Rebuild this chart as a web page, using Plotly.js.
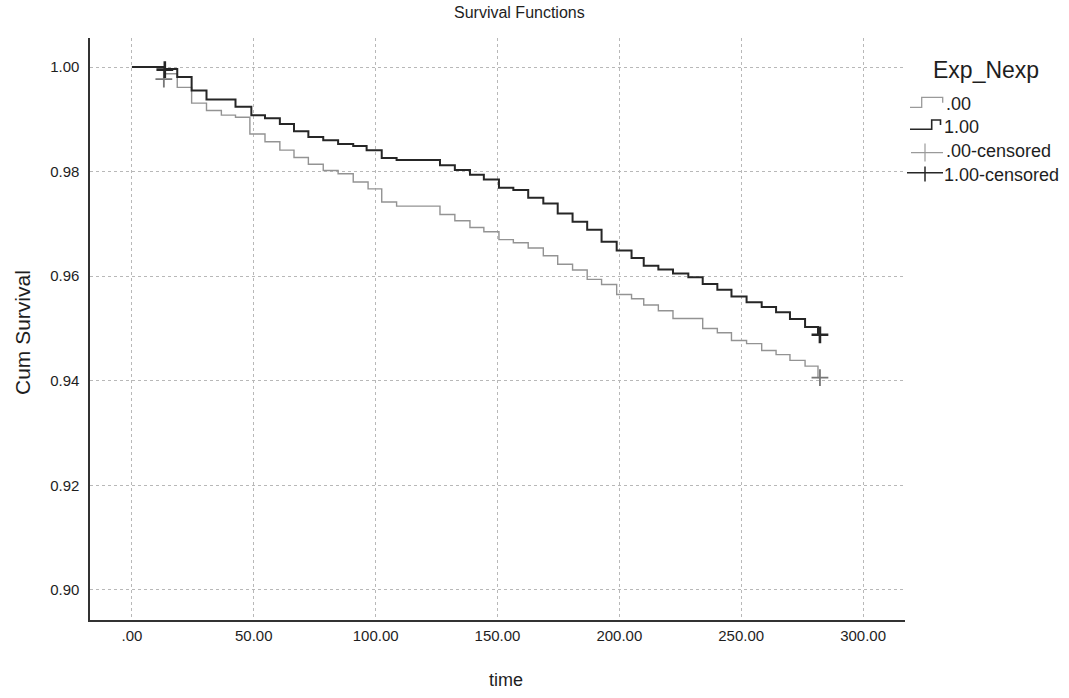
<!DOCTYPE html>
<html><head><meta charset="utf-8">
<script src="https://cdn.plot.ly/plotly-3.0.1.min.js"></script>
<style>html,body{margin:0;padding:0;background:#fff}</style>
</head><body><div id="chart" style="width:1069px;height:698px"></div>
<script>
// ---- data ----
const groupNames = ['.00', '1.00'];
const time0 = [0, 13.5, 18.6, 24.5, 30.6, 36.7, 42.5, 48.4, 54.6, 60.7, 66.5, 72.4, 78.5, 84.6, 90.8, 96.9, 102.5, 108.6, 126.4, 132.5, 138.7, 144.4, 150.6, 156.5, 162.6, 168.8, 174.7, 180.8, 186.8, 192.7, 198.9, 205, 210, 216, 222, 234.2, 240.2, 246, 252.2, 258.4, 264.3, 270, 276.2, 281.5, 282.3];
const surv0 = [1.0, 0.9987, 0.9961, 0.9931, 0.9917, 0.9908, 0.9904, 0.9872, 0.9857, 0.9841, 0.9827, 0.9814, 0.9802, 0.9796, 0.9780, 0.9767, 0.9742, 0.9734, 0.9718, 0.9706, 0.9693, 0.9685, 0.9670, 0.9664, 0.9654, 0.9639, 0.9623, 0.9612, 0.9594, 0.9584, 0.9565, 0.9557, 0.9545, 0.9534, 0.9519, 0.9500, 0.9492, 0.9477, 0.9471, 0.9458, 0.9450, 0.9439, 0.9428, 0.9406, 0.9406];
const time1 = [0, 13.5, 18.6, 24.5, 30.6, 42.5, 49, 54.6, 60.7, 66.5, 72.4, 78.5, 84.6, 90.8, 96.3, 102.5, 108.6, 126.4, 132.5, 138.7, 144.4, 150.6, 156.5, 162.6, 168.8, 174.7, 180.8, 186.8, 192.7, 198.9, 205, 210, 216, 222, 228.3, 234.2, 240.2, 246, 252.2, 258.4, 264.3, 270, 276.2, 281.5, 282.3];
const surv1 = [1.0, 0.9996, 0.9981, 0.9955, 0.9938, 0.9924, 0.9908, 0.9902, 0.9891, 0.9877, 0.9866, 0.9860, 0.9853, 0.9849, 0.9841, 0.9826, 0.9822, 0.9812, 0.9803, 0.9794, 0.9785, 0.9769, 0.9765, 0.9750, 0.9739, 0.9720, 0.9704, 0.9689, 0.9666, 0.9649, 0.9635, 0.9620, 0.9613, 0.9605, 0.9598, 0.9585, 0.9574, 0.9561, 0.9550, 0.9541, 0.9531, 0.9518, 0.9503, 0.9488, 0.9488];
const cens0Time = [13.1, 282.3];
const cens0Surv = [0.9977, 0.9406];
const cens1Time = [13.5, 282.3];
const cens1Surv = [0.9995, 0.9488];
const xTickVals = [0, 50, 100, 150, 200, 250, 300];
const xTickText = ['.00', '50.00', '100.00', '150.00', '200.00', '250.00', '300.00'];
const yTickVals = [0.90, 0.92, 0.94, 0.96, 0.98, 1.00];
const yTickText = ['0.90', '0.92', '0.94', '0.96', '0.98', '1.00'];
const legendTitle = 'Exp_Nexp';
const legendLabels = ['.00', '1.00', '.00-censored', '1.00-censored'];

// ---- styling / layout ----
const FONT = 'Liberation Sans, Arial, sans-serif';
const W = 1069, H = 698;
const M = {l: 90, r: 164, t: 38, b: 78};
const PW = W - M.l - M.r, PH = H - M.t - M.b;
const xp = px => (px - M.l) / PW;
const yp = py => (H - M.b - py) / PH;
const GRAY = '#939393', DARK = '#262626';

const traces = [
  {x: time0, y: surv0, mode: 'lines', line: {shape: 'hv', color: GRAY, width: 1.4}, name: groupNames[0], hoverinfo: 'skip'},
  {x: time1, y: surv1, mode: 'lines', line: {shape: 'hv', color: DARK, width: 2}, name: groupNames[1], hoverinfo: 'skip'},
  {x: cens0Time, y: cens0Surv, mode: 'markers', marker: {symbol: 'cross-thin', size: 12, line: {width: 1.8, color: '#777'}}, name: legendLabels[2]},
  {x: cens1Time, y: cens1Surv, mode: 'markers', marker: {symbol: 'cross-thin', size: 12, line: {width: 2.6, color: DARK}}, name: legendLabels[3]}
];

const shapes = [];
const annotations = [];
function pathPx(pts, color, width) {
  const d = pts.map((p, i) => (i ? 'L' : 'M') + xp(p[0]).toFixed(5) + ',' + yp(p[1]).toFixed(5)).join(' ');
  shapes.push({type: 'path', xref: 'paper', yref: 'paper', path: d, line: {color: color, width: width}});
}
// legend icons
pathPx([[910, 107.3], [921.7, 107.3], [921.7, 97.3], [942.7, 97.3], [942.7, 102.7]], '#9a9a9a', 1.3);
pathPx([[910, 129.3], [931.7, 129.3], [931.7, 120], [940.5, 120], [940.5, 125]], DARK, 1.6);
pathPx([[911, 152.7], [943, 152.7]], '#9a9a9a', 1.2);
pathPx([[925, 143.5], [925, 161.5]], '#9a9a9a', 1.2);
pathPx([[907, 172.7], [943, 172.7]], DARK, 1.5);
pathPx([[925, 166.5], [925, 181.5]], DARK, 1.5);

function textPx(txt, x, y, size, opts) {
  annotations.push(Object.assign({text: txt, xref: 'paper', yref: 'paper', x: xp(x), y: yp(y),
    xanchor: 'left', yanchor: 'middle', showarrow: false, font: {family: FONT, size: size, color: '#1e1e1e'}}, opts || {}));
}
textPx(legendTitle, 931, 70, 23);
textPx(legendLabels[0], 944, 104, 18);
textPx(legendLabels[1], 942, 127.3, 18);
textPx(legendLabels[2], 944, 151, 18);
textPx(legendLabels[3], 942, 175, 18);
// axis titles and chart title
textPx('Survival Functions', 519, 13, 16, {xanchor: 'center'});
textPx('time', 506, 680, 18, {xanchor: 'center'});
textPx('Cum Survival', 22, 333, 21, {xanchor: 'center', textangle: -90});

const layout = {
  width: W, height: H,
  margin: M,
  paper_bgcolor: '#fff', plot_bgcolor: '#fff',
  showlegend: false,
  font: {family: FONT, size: 15, color: '#1e1e1e'},
  xaxis: {
    range: [-17.2, 317.2], tickvals: xTickVals, ticktext: xTickText,
    showgrid: true, gridcolor: '#b8b8b8', griddash: 'dot', gridwidth: 1,
    zeroline: false, showline: true, linecolor: '#333', linewidth: 1.6,
    ticks: '', ticklabelstandoff: 1, tickfont: {size: 15}
  },
  yaxis: {
    range: [0.89426, 1.00555], tickvals: yTickVals, ticktext: yTickText,
    showgrid: true, gridcolor: '#b8b8b8', griddash: 'dot', gridwidth: 1,
    zeroline: false, showline: true, linecolor: '#333', linewidth: 1.6,
    ticks: '', ticklabelstandoff: 6, tickfont: {size: 15}
  },
  shapes: shapes,
  annotations: annotations
};

Plotly.newPlot('chart', traces, layout, {displayModeBar: false, staticPlot: true});
</script>
</body></html>
